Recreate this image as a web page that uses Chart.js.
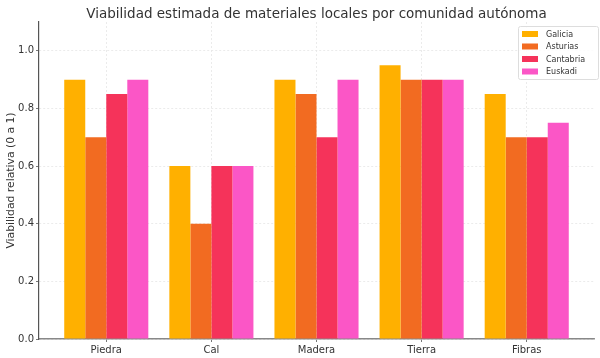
<!DOCTYPE html>
<html><head><meta charset="utf-8">
<script src="https://cdn.jsdelivr.net/npm/chart.js@4/dist/chart.umd.min.js"></script>
<style>html,body{margin:0;padding:0;background:#fff}#wrap{width:600px;height:358px}</style>
</head><body><div id="wrap"><canvas id="c" width="600" height="358"></canvas></div>
<script>
const categories = ["Piedra", "Cal", "Madera", "Tierra", "Fibras"];
const seriesNames = ["Galicia", "Asturias", "Cantabria", "Euskadi"];
const galicia = [0.9, 0.6, 0.9, 0.95, 0.85];
const asturias = [0.7, 0.4, 0.85, 0.9, 0.7];
const cantabria = [0.85, 0.6, 0.7, 0.9, 0.7];
const euskadi = [0.9, 0.6, 0.9, 0.9, 0.75];
const yTicks = [0, 0.2, 0.4, 0.6, 0.8, 1.0];
const titleText = "Viabilidad estimada de materiales locales por comunidad autónoma";
const yTitle = "Viabilidad relativa (0 a 1)";
const colors = ["#FFB000", "#F26B21", "#F5335A", "#FB56C6"];
const FONT = "'DejaVu Sans', sans-serif";

const series = [galicia, asturias, cantabria, euskadi];
const datasets = series.map((vals, i) => ({
  label: seriesNames[i],
  data: vals.map((v, j) => ({x: j, y: v})),
  backgroundColor: colors[i],
  borderWidth: 0,
  categoryPercentage: 0.8,
  barPercentage: 1.0
}));

const titlePlugin = {
  id: 'customTitle',
  afterDraw(chart) {
    const ctx = chart.ctx, a = chart.chartArea;
    ctx.save();
    ctx.font = "13.5px " + FONT;
    ctx.fillStyle = "#333";
    ctx.textAlign = "center";
    ctx.textBaseline = "alphabetic";
    ctx.fillText(titleText, (a.left + a.right) / 2, 18);
    // legend
    const bx = 518, by = 26, bw = 80, bh = 53;
    ctx.fillStyle = "rgba(255,255,255,0.85)";
    ctx.strokeStyle = "#ddd";
    ctx.lineWidth = 1;
    ctx.beginPath();
    ctx.roundRect(bx + 0.5, by + 0.5, bw, bh, 2);
    ctx.fill(); ctx.stroke();
    ctx.font = "8px " + FONT;
    ctx.textAlign = "left";
    ctx.textBaseline = "middle";
    chart.data.datasets.forEach((d, i) => {
      const y = by + 8 + i * 12.5;
      ctx.fillStyle = d.backgroundColor;
      ctx.fillRect(bx + 4, y - 3, 16, 6);
      ctx.fillStyle = "#333";
      ctx.fillText(d.label, bx + 28, y + 0.5);
    });
    ctx.restore();
  }
};

new Chart(document.getElementById('c'), {
  type: 'bar',
  data: { datasets },
  options: {
    responsive: false,
    animation: false,
    layout: { padding: { top: 22, right: 6, left: 0, bottom: 0 } },
    plugins: { legend: { display: false }, title: { display: false }, tooltip: { enabled: false } },
    scales: {
      x: {
        type: 'linear',
        min: -0.64, max: 4.64,
        offset: false,
        z: 1,
        afterFit: s => { s.height = 19; },
        afterBuildTicks: s => { s.ticks = categories.map((c, i) => ({ value: i })); },
        ticks: {
          autoSkip: false,
          callback: v => categories[v],
          font: { family: FONT, size: 10 },
          color: "#333",
          padding: 2
        },
        grid: {
          offset: false,
          color: "#e6e6e6",
          lineWidth: 0.8,
          tickColor: "#555",
          tickLength: 3,
          drawOnChartArea: true
        },
        border: { display: true, color: "#888", width: 1.5, dash: [2, 2] }
      },
      y: {
        min: 0, max: 1.1,
        z: 1,
        afterFit: s => { s.width = 39; },
        afterBuildTicks: s => { s.ticks = yTicks.map(v => ({ value: v })); },
        ticks: {
          callback: v => v.toFixed(1),
          font: { family: FONT, size: 10 },
          color: "#333",
          padding: 2
        },
        title: {
          display: true, text: yTitle,
          font: { family: FONT, size: 10.8 },
          color: "#333",
          padding: { top: 5, bottom: 0 }
        },
        grid: {
          color: "#e6e6e6",
          lineWidth: 0.8,
          tickColor: "#555",
          tickLength: 3
        },
        border: { display: true, color: "#555", width: 1.2, dash: [2, 2] }
      }
    }
  },
  plugins: [titlePlugin]
});
</script>
</body></html>
